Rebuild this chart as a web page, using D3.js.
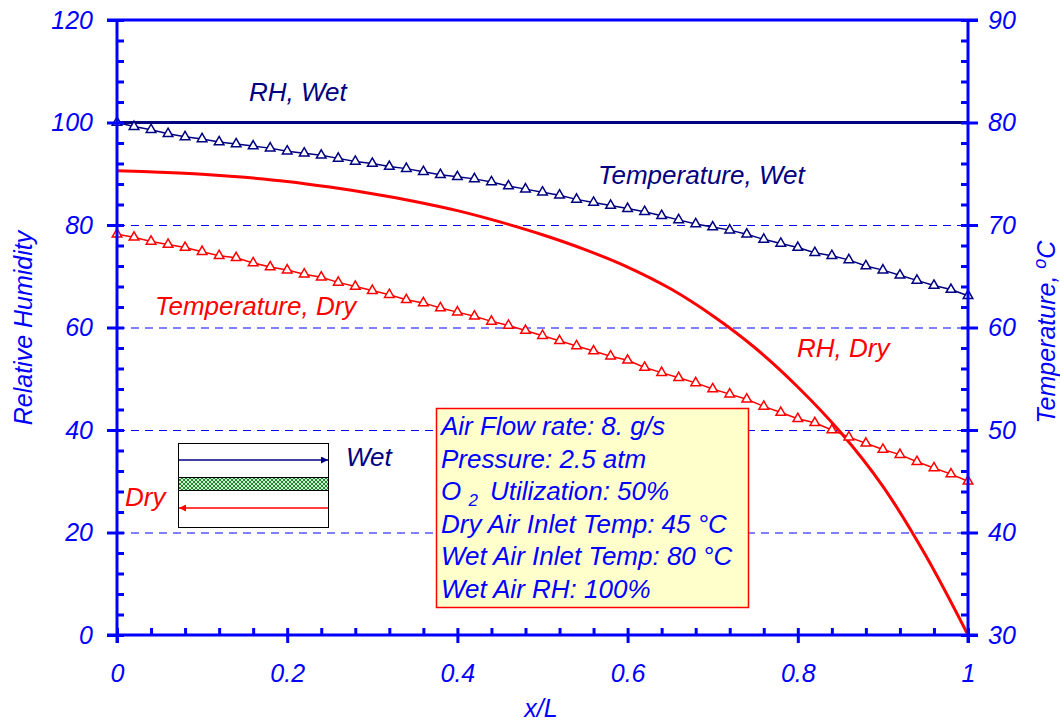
<!DOCTYPE html>
<html>
<head>
<meta charset="utf-8">
<script src="https://cdn.jsdelivr.net/npm/d3@7"></script>
<style>
  body { margin: 0; background: #fff; }
  text { font-family: "Liberation Sans", Arial, sans-serif; font-style: italic; }
</style>
</head>
<body>
<script>
// x/L positions of the marker points
const xPts = [0, 0.02, 0.04, 0.06, 0.08, 0.1, 0.12, 0.14, 0.16, 0.18,
  0.2, 0.22, 0.24, 0.26, 0.28, 0.3, 0.32, 0.34, 0.36, 0.38,
  0.4, 0.42, 0.44, 0.46, 0.48, 0.5, 0.52, 0.54, 0.56, 0.58,
  0.6, 0.62, 0.64, 0.66, 0.68, 0.7, 0.72, 0.74, 0.76, 0.78,
  0.8, 0.82, 0.84, 0.86, 0.88, 0.9, 0.92, 0.94, 0.96, 0.98, 1];

// temperatures, deg C (right axis)
const tempWet = [80.0, 79.6, 79.3, 78.9, 78.6, 78.4, 78.1, 77.9, 77.7, 77.5,
  77.2, 77.0, 76.8, 76.5, 76.2, 76.0, 75.7, 75.5, 75.2, 74.9,
  74.7, 74.5, 74.2, 73.8, 73.5, 73.2, 72.9, 72.5, 72.2, 71.9,
  71.6, 71.3, 70.9, 70.5, 70.1, 69.8, 69.5, 69.1, 68.6, 68.2,
  67.8, 67.3, 67.0, 66.6, 66.0, 65.6, 65.1, 64.6, 64.1, 63.7, 63.1];
const tempDry = [69.1, 68.8, 68.4, 68.1, 67.8, 67.4, 67.0, 66.8, 66.3, 65.9,
  65.6, 65.2, 64.9, 64.4, 64.0, 63.6, 63.2, 62.7, 62.4, 61.9,
  61.5, 61.1, 60.6, 60.2, 59.7, 59.2, 58.7, 58.2, 57.7, 57.2,
  56.8, 56.1, 55.6, 55.1, 54.6, 54.0, 53.5, 53.0, 52.3, 51.7,
  51.1, 50.7, 50.0, 49.3, 48.7, 48.1, 47.6, 46.9, 46.3, 45.7, 45.0];

// relative humidity (left axis)
const rhWetX = [0, 1];
const rhWet = [100, 100];
const rhDryX = [0, 0.05, 0.1, 0.15, 0.2, 0.25, 0.3, 0.35, 0.4, 0.45, 0.5,
  0.55, 0.6, 0.65, 0.7, 0.75, 0.8, 0.85, 0.9, 0.95, 1];
const rhDry = [90.6, 90.3, 89.9, 89.3, 88.5, 87.4, 86.1, 84.6, 82.8, 80.6, 78.1,
  75.2, 71.8, 67.6, 62.3, 56.0, 48.4, 39.6, 29.0, 15.6, 0];

// ticks
const xTicks = [0, 0.2, 0.4, 0.6, 0.8, 1];
const xMinor = [0, 0.04, 0.08, 0.12, 0.16, 0.2, 0.24, 0.28, 0.32, 0.36, 0.4, 0.44, 0.48,
  0.52, 0.56, 0.6, 0.64, 0.68, 0.72, 0.76, 0.8, 0.84, 0.88, 0.92, 0.96, 1];
const rhTicks = [0, 20, 40, 60, 80, 100, 120];
const rhMinor = [0, 4, 8, 12, 16, 20, 24, 28, 32, 36, 40, 44, 48, 52, 56, 60,
  64, 68, 72, 76, 80, 84, 88, 92, 96, 100, 104, 108, 112, 116, 120];
const tTicks = [30, 40, 50, 60, 70, 80, 90];
const tMinor = [30, 32, 34, 36, 38, 40, 42, 44, 46, 48, 50, 52, 54, 56, 58, 60,
  62, 64, 66, 68, 70, 72, 74, 76, 78, 80, 82, 84, 86, 88, 90];
const gridVals = [20, 40, 60, 80];

const infoLines = ["Air Flow rate: 8. g/s", "Pressure: 2.5 atm", "O2",
  "Dry Air Inlet Temp: 45 °C", "Wet Air Inlet Temp: 80 °C", "Wet Air RH: 100%"];

const w = 1060, h = 724;
const pL = 117, pR = 968, pT = 20, pB = 635;
const BLUE = "#0000ff", NAVY = "#000080", RED = "#ff0000";

const svg = d3.select("body").append("svg")
  .attr("width", w).attr("height", h);

const x = d3.scaleLinear().domain([0, 1]).range([pL, pR]);
const yL = d3.scaleLinear().domain([0, 120]).range([pB, pT]);
const yR = d3.scaleLinear().domain([30, 90]).range([pB, pT]);

// hatch for legend membrane
const defs = svg.append("defs");
const pat = defs.append("pattern").attr("id", "hatch")
  .attr("width", 4).attr("height", 4).attr("patternUnits", "userSpaceOnUse");
pat.append("rect").attr("width", 4).attr("height", 4).attr("fill", "#cfeccf");
pat.append("path").attr("d", "M0,0L4,4M4,0L0,4").attr("stroke", "#1e8a2e").attr("stroke-width", 1);
[["arrowN", NAVY], ["arrowR", RED]].forEach(function(a) {
  defs.append("marker").attr("id", a[0])
    .attr("viewBox", "0 0 10 10").attr("refX", 10).attr("refY", 5)
    .attr("markerWidth", 9).attr("markerHeight", 7).attr("orient", "auto")
    .attr("markerUnits", "userSpaceOnUse")
    .append("path").attr("d", "M0,0L10,5L0,10z").attr("fill", a[1]);
});

// grid
svg.selectAll(".grid").data(gridVals).enter().append("line")
  .attr("x1", pL).attr("x2", pR)
  .attr("y1", d => yL(d) + 0.5).attr("y2", d => yL(d) + 0.5)
  .attr("stroke", BLUE).attr("stroke-width", 1).attr("stroke-dasharray", "8,6");

// lines
svg.append("path").datum(rhWet)
  .attr("d", d3.line().x((d, i) => x(rhWetX[i])).y(d => yL(d)))
  .attr("fill", "none").attr("stroke", NAVY).attr("stroke-width", 3);
svg.append("path").datum(tempWet)
  .attr("d", d3.line().x((d, i) => x(xPts[i])).y(d => yR(d)))
  .attr("fill", "none").attr("stroke", NAVY).attr("stroke-width", 1.5);
svg.append("path").datum(tempDry)
  .attr("d", d3.line().x((d, i) => x(xPts[i])).y(d => yR(d)))
  .attr("fill", "none").attr("stroke", RED).attr("stroke-width", 1.5);
svg.append("path").datum(rhDry)
  .attr("d", d3.line().curve(d3.curveCatmullRom.alpha(0.5)).x((d, i) => x(rhDryX[i])).y(d => yL(d)))
  .attr("fill", "none").attr("stroke", RED).attr("stroke-width", 3);

// markers
const tri = d3.symbol().type(d3.symbolTriangle).size(40);
[[tempWet, NAVY], [tempDry, RED]].forEach(function(s) {
  svg.append("g").selectAll("path").data(s[0]).enter().append("path")
    .attr("d", tri)
    .attr("transform", (d, i) => "translate(" + x(xPts[i]) + "," + yR(d) + ")")
    .attr("fill", "#fff").attr("stroke", s[1]).attr("stroke-width", 1.5);
});

// frame + axes
svg.append("line").attr("x1", pL - 10).attr("x2", pR + 10)
  .attr("y1", pT).attr("y2", pT).attr("stroke", BLUE).attr("stroke-width", 3);

function styleAxis(g) {
  g.selectAll("path.domain").attr("stroke", BLUE).attr("stroke-width", 3);
  g.selectAll("line").attr("stroke", BLUE).attr("stroke-width", 3);
  g.selectAll("text").attr("fill", BLUE).style("font-size", "25px")
    .style("font-family", "'Liberation Sans', Arial, sans-serif").style("font-style", "italic");
}

// bottom
svg.append("g").attr("transform", "translate(0," + pB + ")")
  .call(d3.axisBottom(x).tickValues(xTicks).tickSize(8).tickSizeOuter(0).tickPadding(21)
    .tickFormat(d3.format("")))
  .call(styleAxis).call(g => g.select(".domain").attr("d", "M" + (pL - 10) + ",0H" + (pR + 10)));
svg.append("g").attr("transform", "translate(0," + pB + ")")
  .call(d3.axisTop(x).tickValues(xMinor).tickSize(7).tickSizeOuter(0).tickFormat(""))
  .call(styleAxis).call(g => g.select(".domain").remove());

// left
svg.append("g").attr("transform", "translate(" + pL + ",0)")
  .call(d3.axisLeft(yL).tickValues(rhTicks).tickSize(10).tickSizeOuter(0).tickPadding(14))
  .call(styleAxis).call(g => g.select(".domain").attr("d", "M0," + pT + "V" + (pB + 8)));
svg.append("g").attr("transform", "translate(" + pL + ",0)")
  .call(d3.axisRight(yL).tickValues(rhMinor).tickSize(7).tickSizeOuter(0).tickFormat(""))
  .call(styleAxis).call(g => g.select(".domain").remove());

// right
svg.append("g").attr("transform", "translate(" + pR + ",0)")
  .call(d3.axisRight(yR).tickValues(tTicks).tickSize(10).tickSizeOuter(0).tickPadding(10))
  .call(styleAxis).call(g => g.select(".domain").attr("d", "M0," + pT + "V" + (pB + 8)));
svg.append("g").attr("transform", "translate(" + pR + ",0)")
  .call(d3.axisLeft(yR).tickValues(tMinor).tickSize(7).tickSizeOuter(0).tickFormat(""))
  .call(styleAxis).call(g => g.select(".domain").remove());

// axis titles
svg.append("text").attr("transform", "translate(32,328) rotate(-90)")
  .attr("text-anchor", "middle").attr("fill", BLUE).style("font-size", "25px")
  .text("Relative Humidity");
const rt = svg.append("text").attr("transform", "translate(1055,332) rotate(-90)")
  .attr("text-anchor", "middle").attr("fill", BLUE).style("font-size", "25px");
rt.append("tspan").text("Temperature, ");
rt.append("tspan").attr("dy", -9).style("font-size", "18px").text("o");
rt.append("tspan").attr("dy", 9).text("C");
svg.append("text").attr("x", 541).attr("y", 717).attr("text-anchor", "middle")
  .attr("fill", BLUE).style("font-size", "25px").text("x/L");

// series labels
function label(t, lx, ly, c) {
  svg.append("text").attr("x", lx).attr("y", ly).attr("fill", c)
    .style("font-size", "26px").text(t);
}
label("RH, Wet", 249, 101, NAVY);
label("Temperature, Wet", 598, 184, NAVY);
label("Temperature, Dry", 155, 315, RED);
label("RH, Dry", 797, 357, RED);
label("Wet", 346, 466, NAVY);
label("Dry", 125, 506, RED);

// flow diagram
svg.append("rect").attr("x", 178.5).attr("y", 443.5).attr("width", 150).attr("height", 84)
  .attr("fill", "#fff").attr("stroke", "#000").attr("stroke-width", 1);
svg.append("rect").attr("x", 178.5).attr("y", 477.5).attr("width", 150).attr("height", 13)
  .attr("fill", "url(#hatch)").attr("stroke", "#000").attr("stroke-width", 1);
svg.append("line").attr("x1", 179).attr("x2", 328).attr("y1", 460).attr("y2", 460)
  .attr("stroke", NAVY).attr("stroke-width", 1.5).attr("marker-end", "url(#arrowN)");
svg.append("line").attr("x1", 328).attr("x2", 179).attr("y1", 508).attr("y2", 508)
  .attr("stroke", RED).attr("stroke-width", 1.5).attr("marker-end", "url(#arrowR)");

// info box
svg.append("rect").attr("x", 436.5).attr("y", 408.5).attr("width", 312).attr("height", 199)
  .attr("fill", "#ffffcc").attr("stroke", RED).attr("stroke-width", 1.5);
const info = svg.append("g").style("font-size", "26px").attr("fill", BLUE);
infoLines.forEach(function(s, i) {
  const t = info.append("text").attr("x", 441).attr("y", 435 + i * 32.5);
  if (s === "O2") {
    t.append("tspan").text("O ");
    t.append("tspan").attr("dy", 6).style("font-size", "17px").text("2");
    t.append("tspan").attr("dy", -6).attr("dx", 12).text("Utilization: 50%");
  } else {
    t.text(s);
  }
});
</script>
</body>
</html>
